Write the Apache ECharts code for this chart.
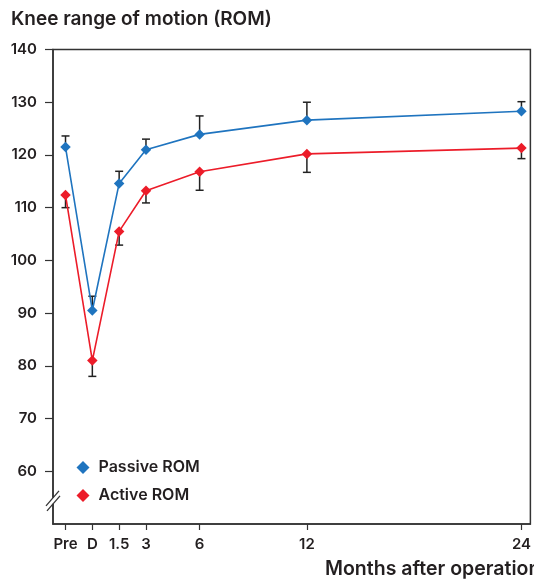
<!DOCTYPE html>
<html>
<head>
<meta charset="utf-8">
<script src="https://cdn.jsdelivr.net/npm/echarts@6/dist/echarts.min.js"></script>
<style>
html,body{margin:0;padding:0;background:#fff;}
#c{width:534px;height:579px;}
</style>
</head>
<body>
<div id="c"></div>
<script>
// Data
var xValues = [-1.5, 0, 1.5, 3, 6, 12, 24];
var xTickLabels = ['Pre', 'D', '1.5', '3', '6', '12', '24'];
var yTicks = [60, 70, 80, 90, 100, 110, 120, 130, 140];
var passiveROM = [121.5, 90.5, 114.6, 121.0, 123.9, 126.6, 128.3];
var passiveErr = [2.1, 2.7, 2.3, 2.0, 3.5, 3.4, 1.8];   // drawn upward
var activeROM = [112.4, 81.0, 105.5, 113.2, 116.8, 120.2, 121.3];
var activeErr = [2.4, 3.0, 2.6, 2.3, 3.5, 3.5, 2.0];    // drawn downward

var FONT = 'Inter';
var W = 600;
var TXT = '#231f20';
var BLUE = '#1f74bf';
var RED = '#ec1c29';

function pairs(vals) { return xValues.map(function (x, i) { return [x, vals[i]]; }); }
function errData(vals, errs, dir) {
  return xValues.map(function (x, i) { return [x, vals[i], vals[i] + dir * errs[i]]; });
}
function renderErr(params, api) {
  var p0 = api.coord([api.value(0), api.value(1)]);
  var p1 = api.coord([api.value(0), api.value(2)]);
  var hw = 4;
  var st = { stroke: '#222', lineWidth: 1.5 };
  return {
    type: 'group',
    children: [
      { type: 'line', shape: { x1: p0[0], y1: p0[1], x2: p1[0], y2: p1[1] }, style: st },
      { type: 'line', shape: { x1: p1[0] - hw, y1: p1[1], x2: p1[0] + hw, y2: p1[1] }, style: st }
    ]
  };
}

var chart = echarts.init(document.getElementById('c'));
var labelMap = {};
xValues.forEach(function (v, i) { labelMap[v] = xTickLabels[i]; });

chart.setOption({
  animation: false,
  backgroundColor: '#fff',
  textStyle: { fontFamily: FONT },
  title: [
    { text: 'Knee range of motion (ROM)', left: 11, top: 9.5, padding: 0,
      textStyle: { fontFamily: FONT, fontSize: 19, fontWeight: W, color: TXT } },
    { text: 'Months after operation', left: 325, top: 559, padding: 0,
      textStyle: { fontFamily: FONT, fontSize: 19.5, fontWeight: W, color: TXT } }
  ],
  legend: {
    orient: 'vertical', left: 76.5, top: 459.5, itemGap: 12, padding: 0,
    icon: 'diamond', itemWidth: 13, itemHeight: 13,
    textStyle: { fontFamily: FONT, fontSize: 16, fontWeight: W, color: TXT, padding: [0, 0, 0, 4] },
    data: ['Passive ROM', 'Active ROM']
  },
  grid: {
    left: 53, right: 2.5, top: 49.5, bottom: 55,
    show: true, borderColor: '#333', borderWidth: 1.5, backgroundColor: 'transparent'
  },
  xAxis: {
    type: 'value', min: -2.2, max: 24.5,
    splitLine: { show: false },
    axisLine: { show: true, onZero: false, lineStyle: { color: '#333', width: 1.5 } },
    axisTick: { show: true, length: 6, customValues: xValues, lineStyle: { color: '#333', width: 1.2 } },
    axisLabel: {
      customValues: xValues, margin: 13,
      fontFamily: FONT, fontSize: 15, fontWeight: W, color: TXT,
      formatter: function (v) { return labelMap[v] !== undefined ? labelMap[v] : ''; }
    }
  },
  yAxis: {
    type: 'value', min: 50, max: 140, interval: 10,
    splitLine: { show: false },
    axisLine: { show: true, onZero: false, lineStyle: { color: '#333', width: 1.5 } },
    axisTick: { show: true, length: 8, customValues: yTicks, lineStyle: { color: '#333', width: 1.2 } },
    axisLabel: {
      customValues: yTicks, margin: 16,
      fontFamily: FONT, fontSize: 15, fontWeight: W, color: TXT
    }
  },
  series: [
    { type: 'custom', name: 'pErr', renderItem: renderErr, data: errData(passiveROM, passiveErr, 1), z: 1, silent: true },
    { type: 'custom', name: 'aErr', renderItem: renderErr, data: errData(activeROM, activeErr, -1), z: 1, silent: true },
    { type: 'line', name: 'Passive ROM', data: pairs(passiveROM), z: 3,
      symbol: 'diamond', symbolSize: 10.5, showAllSymbol: true,
      lineStyle: { color: BLUE, width: 1.6 }, itemStyle: { color: BLUE } },
    { type: 'line', name: 'Active ROM', data: pairs(activeROM), z: 3,
      symbol: 'diamond', symbolSize: 10.5, showAllSymbol: true,
      lineStyle: { color: RED, width: 1.6 }, itemStyle: { color: RED } }
  ]
});

// Axis break marks on the y axis
var bp = chart.convertToPixel({ xAxisIndex: 0, yAxisIndex: 0 }, [-2.2, 54.4]);
var bx = bp[0], by = bp[1];
chart.setOption({
  graphic: [
    { type: 'rect', z: 100, shape: { x: bx - 3, y: by - 3, width: 6, height: 6 }, style: { fill: '#fff' } },
    { type: 'line', z: 101, shape: { x1: bx - 7, y1: by + 5, x2: bx + 6, y2: by - 10 }, style: { stroke: '#333', lineWidth: 1.3 } },
    { type: 'line', z: 101, shape: { x1: bx - 6, y1: by + 10, x2: bx + 7, y2: by - 5 }, style: { stroke: '#333', lineWidth: 1.3 } }
  ]
});
</script>
</body>
</html>
